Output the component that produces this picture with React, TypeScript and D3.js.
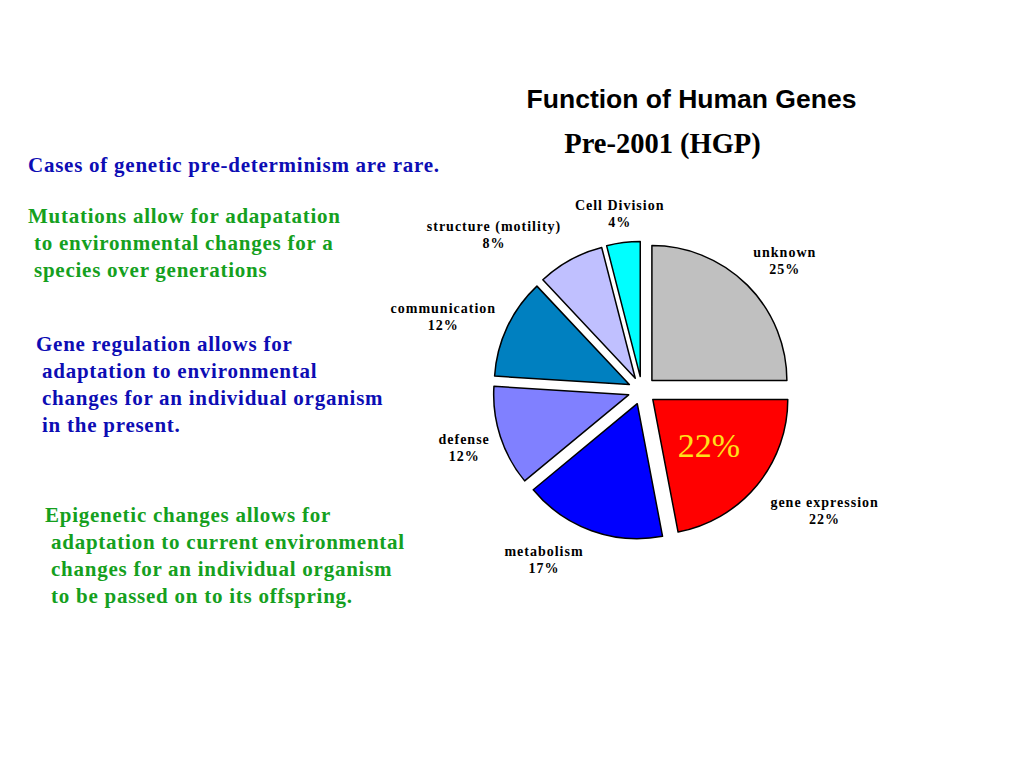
import { useEffect, useRef } from 'react';
import * as d3 from 'd3';

// chart data
const categories = ['unknown', 'gene expression', 'metabolism', 'defense', 'communication', 'structure (motility)', 'Cell Division'];
const shares = [25, 22, 17, 12, 12, 8, 4];
const sliceColors = ['#c0c0c0', '#ff0000', '#0000ff', '#8080ff', '#0080c0', '#c0c0ff', '#00ffff'];

// side notes
const noteCases = ['Cases of genetic pre-determinism are rare.'];
const noteMutations = ['Mutations allow for adapatation', ' to environmental changes for a', ' species over generations'];
const noteRegulation = ['Gene regulation allows for', ' adaptation to environmental', ' changes for an individual organism', ' in the present.'];
const noteEpigenetic = ['Epigenetic changes allows for', ' adaptation to current environmental', ' changes for an individual organism', ' to be passed on to its offspring.'];

export default function App() {
  const svgRef = useRef<SVGSVGElement>(null);

  useEffect(() => {
    if (!svgRef.current) return;
    const width = 1024;
    const height = 768;
    const svg = d3.select(svgRef.current);
    svg.selectAll('*').remove();

    svg.append('rect').attr('width', width).attr('height', height).attr('fill', '#fff');

    const cx = 642, cy = 390.5;
    const radius = 135;
    const explode = 14;

    const pie = d3.pie<number>().sort(null).value(d => d);
    const arcs = pie(shares);
    const arc = d3.arc<d3.PieArcDatum<number>>().innerRadius(0).outerRadius(radius);

    const g = svg.append('g').attr('transform', `translate(${cx},${cy})`);

    const mid = (a: d3.PieArcDatum<number>) => (a.startAngle + a.endAngle) / 2;

    g.selectAll('path.slice')
      .data(arcs)
      .join('path')
      .attr('class', 'slice')
      .attr('d', arc)
      .attr('transform', d => {
        const m = mid(d);
        return `translate(${Math.sin(m) * explode},${-Math.cos(m) * explode})`;
      })
      .attr('fill', (_, i) => sliceColors[i])
      .attr('stroke', '#000')
      .attr('stroke-width', 1.5)
      .attr('stroke-linejoin', 'round');

    // category labels, outside end (angle tweak in degrees, distance from centre)
    const labelPlace: [number, number][] = [
      [2.7, 193], [-6.1, 219], [10.2, 196], [0, 187], [-4.8, 212], [-14.7, 215], [0, 178],
    ];
    const labels = g.selectAll('g.lbl')
      .data(arcs)
      .join('g')
      .attr('class', 'lbl')
      .attr('transform', (d, i) => {
        const m = mid(d) + (labelPlace[i][0] * Math.PI) / 180;
        const r = labelPlace[i][1];
        return `translate(${Math.sin(m) * r},${-Math.cos(m) * r})`;
      });
    labels.append('text')
      .attr('text-anchor', 'middle')
      .attr('y', -4)
      .style('font-family', '"Liberation Serif", "Times New Roman", serif')
      .style('font-weight', 'bold')
      .style('font-size', '14px')
      .style('letter-spacing', '1px')
      .text((_, i) => categories[i]);
    labels.append('text')
      .attr('text-anchor', 'middle')
      .attr('y', 13)
      .style('font-family', '"Liberation Serif", "Times New Roman", serif')
      .style('font-weight', 'bold')
      .style('font-size', '14px')
      .style('letter-spacing', '1px')
      .text(d => `${d.data}%`);

    // big value in the highlighted slice
    const big = arcs[1];
    const bigArc = d3.arc<d3.PieArcDatum<number>>().innerRadius(0).outerRadius(radius * 1.08);
    const [bx, by] = bigArc.centroid(big);
    const bm = mid(big);
    g.append('text')
      .attr('x', bx + Math.sin(bm) * explode)
      .attr('y', by - Math.cos(bm) * explode + 11)
      .attr('text-anchor', 'middle')
      .style('font-family', '"Liberation Serif", "Times New Roman", serif')
      .style('font-size', '34px')
      .attr('fill', '#ffe21a')
      .text(`${big.data}%`);

    // titles
    svg.append('text')
      .attr('x', 691.5).attr('y', 108)
      .attr('text-anchor', 'middle')
      .style('font-family', '"Liberation Sans", Arial, sans-serif')
      .style('font-weight', 'bold')
      .style('font-size', '26.5px')
      .text('Function of Human Genes');
    svg.append('text')
      .attr('x', 662.5).attr('y', 153)
      .attr('text-anchor', 'middle')
      .style('font-family', '"Liberation Serif", "Times New Roman", serif')
      .style('font-weight', 'bold')
      .style('font-size', '28.5px')
      .text('Pre-2001 (HGP)');

    const block = (lines: string[], x: number, y: number, color: string) => {
      const t = svg.append('text')
        .attr('x', x).attr('y', y)
        .attr('fill', color)
        .style('font-family', '"Liberation Serif", "Times New Roman", serif')
        .style('font-weight', 'bold')
        .style('font-size', '21px')
        .style('letter-spacing', '0.75px')
        .style('white-space', 'pre');
      lines.forEach((l, i) => {
        t.append('tspan').attr('x', x).attr('dy', i === 0 ? 0 : 27).text(l);
      });
    };
    block(noteCases, 28, 172, '#0d0db4');
    block(noteMutations, 28, 223, '#15a01e');
    block(noteRegulation, 36, 351, '#0d0db4');
    block(noteEpigenetic, 45, 522, '#15a01e');
  }, []);

  return (
    <svg
      ref={svgRef}
      width={1024}
      height={768}
      style={{ position: 'absolute', left: 0, top: 0 }}
    />
  );
}
